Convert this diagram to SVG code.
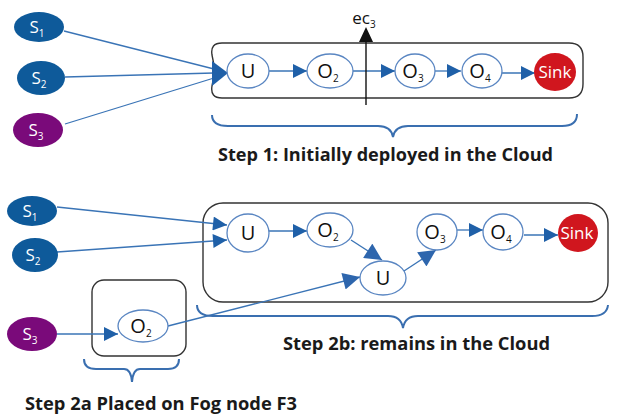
<svg xmlns="http://www.w3.org/2000/svg" width="628" height="417" viewBox="0 0 628 417">
<style>
.s12{fill:#0e5a9a}
.s3{fill:#7a0a7a}
.op{fill:#fff;stroke:#5a86c2;stroke-width:1.3}
.sink{fill:#d0161e}
.box{fill:none;stroke:#333;stroke-width:1.4}
.brace{fill:none;stroke:#3a6fb0;stroke-width:2}
.ln{fill:none;stroke:#3a74b6;stroke-width:1.3}
.t{font-family:"Open Sans","Noto Sans","Liberation Sans",sans-serif;font-size:17px;fill:#111;text-anchor:middle}
.n{font-size:20px}
.tw{fill:#fff}
.sub{font-size:10px}
.cap{font-family:"Open Sans","Noto Sans","Liberation Sans",sans-serif;font-size:17px;font-weight:bold;fill:#1a1a1a}
</style>
<defs>
<marker id="ah" viewBox="0 0 10 10" refX="10" refY="5" markerWidth="15" markerHeight="14" markerUnits="userSpaceOnUse" orient="auto">
<path d="M0,0 L10,5 L0,10 Z" fill="#1f60a8"/>
</marker>
<marker id="ahb" viewBox="0 0 10 10" refX="10" refY="5" markerWidth="18" markerHeight="17" markerUnits="userSpaceOnUse" orient="auto">
<path d="M0,0 L10,5 L0,10 Z" fill="#2e66ad"/>
</marker>
</defs>

<g id="containers">
<path class="box" d="M222,43 L569,43 Q583,43 583,57 L583,84 Q583,98 569,98 L222,98 Q210,98 212,86 Q216,70 212,55 Q210,43 222,43 Z"/>
<rect class="box" x="203" y="203" width="405" height="99" rx="20"/>
<rect class="box" x="92" y="280" width="94" height="76" rx="12"/>
</g>

<g id="connectors">
<line class="ln" x1="64" y1="31" x2="214" y2="69"/>
<line class="ln" x1="65" y1="77" x2="214" y2="73"/>
<line class="ln" x1="65" y1="124" x2="214" y2="78"/>
<polygon points="212,61 228,73 212,86" fill="#1f60a8"/>
<line class="ln" x1="269" y1="71" x2="307" y2="71" marker-end="url(#ah)"/>
<line class="ln" x1="353" y1="71" x2="395" y2="71" marker-end="url(#ah)"/>
<line class="ln" x1="435" y1="71" x2="461" y2="71" marker-end="url(#ah)"/>
<line class="ln" x1="502" y1="73" x2="535" y2="73" marker-end="url(#ah)"/>
<line x1="366" y1="105" x2="366" y2="40" stroke="#111" stroke-width="1.4"/>
<polygon points="359,42 373,42 366,27" fill="#111"/>

<line class="ln" x1="57" y1="207" x2="227" y2="225" marker-end="url(#ah)"/>
<line class="ln" x1="57" y1="252" x2="227" y2="240" marker-end="url(#ah)"/>
<line class="ln" x1="269" y1="231" x2="307" y2="231" marker-end="url(#ah)"/>
<line class="ln" x1="351" y1="240" x2="382" y2="260" marker-end="url(#ahb)"/>
<line class="ln" x1="404" y1="271" x2="436" y2="250" marker-end="url(#ahb)"/>
<line class="ln" x1="457" y1="230" x2="483" y2="230" marker-end="url(#ah)"/>
<line class="ln" x1="524" y1="235" x2="558" y2="235" marker-end="url(#ah)"/>
<line class="ln" x1="57" y1="334" x2="118" y2="334" marker-end="url(#ah)"/>
<line class="ln" x1="168" y1="326" x2="360" y2="277" marker-end="url(#ahb)"/>
</g>

<g id="S1a"><ellipse class="s12" cx="39" cy="27" rx="25" ry="15"/><text class="t tw" x="37" y="33">S<tspan class="sub" dy="4">1</tspan></text></g>
<g id="S2a"><ellipse class="s12" cx="41" cy="78" rx="24" ry="17"/><text class="t tw" x="39" y="84">S<tspan class="sub" dy="4">2</tspan></text></g>
<g id="S3a"><ellipse class="s3" cx="38" cy="130" rx="25" ry="17"/><text class="t tw" x="36" y="136">S<tspan class="sub" dy="4">3</tspan></text></g>
<g id="Ua"><ellipse class="op" cx="248" cy="71" rx="21" ry="17"/><text class="t n" x="248" y="78">U</text></g>
<g id="O2a"><ellipse class="op" cx="330" cy="71" rx="23" ry="17"/><text class="t n" x="328" y="78">O<tspan class="sub" dy="4">2</tspan></text></g>
<g id="O3a"><ellipse class="op" cx="415" cy="71" rx="20" ry="17"/><text class="t n" x="413" y="78">O<tspan class="sub" dy="4">3</tspan></text></g>
<g id="O4a"><ellipse class="op" cx="482" cy="71" rx="20" ry="17"/><text class="t n" x="480" y="78">O<tspan class="sub" dy="4">4</tspan></text></g>
<g id="SinkA"><ellipse class="sink" cx="555" cy="72" rx="21" ry="19"/><text class="t tw" x="555" y="78">Sink</text></g>
<g id="ec3"><text class="t" x="364" y="24">ec<tspan class="sub" dy="4">3</tspan></text></g>

<g id="S1b"><ellipse class="s12" cx="32" cy="211" rx="25" ry="15"/><text class="t tw" x="30" y="217">S<tspan class="sub" dy="4">1</tspan></text></g>
<g id="S2b"><ellipse class="s12" cx="35" cy="255" rx="23" ry="17"/><text class="t tw" x="33" y="261">S<tspan class="sub" dy="4">2</tspan></text></g>
<g id="S3b"><ellipse class="s3" cx="32" cy="334" rx="25" ry="17"/><text class="t tw" x="30" y="340">S<tspan class="sub" dy="4">3</tspan></text></g>
<g id="Ub"><ellipse class="op" cx="248" cy="233" rx="21" ry="19"/><text class="t n" x="248" y="240">U</text></g>
<g id="O2b"><ellipse class="op" cx="330" cy="230" rx="23" ry="17"/><text class="t n" x="328" y="237">O<tspan class="sub" dy="4">2</tspan></text></g>
<g id="U2b"><ellipse class="op" cx="383" cy="278" rx="23" ry="17"/><text class="t n" x="383" y="285">U</text></g>
<g id="O3b"><ellipse class="op" cx="437" cy="232" rx="20" ry="18"/><text class="t n" x="435" y="239">O<tspan class="sub" dy="4">3</tspan></text></g>
<g id="O4b"><ellipse class="op" cx="503" cy="232" rx="20" ry="18"/><text class="t n" x="501" y="239">O<tspan class="sub" dy="4">4</tspan></text></g>
<g id="SinkB"><ellipse class="sink" cx="578" cy="233" rx="20" ry="19"/><text class="t tw" x="577" y="239">Sink</text></g>
<g id="O2fog"><ellipse class="op" cx="143" cy="326" rx="25" ry="16"/><text class="t n" x="141" y="333">O<tspan class="sub" dy="4">2</tspan></text></g>

<g id="braces">
<path class="brace" d="M212,115 Q212,126 228,126 L378,126 Q391,126 393,137 Q395,126 408,126 L562,126 Q577,126 577,114"/>
<path class="brace" d="M197,305 Q197,316 213,316 L388,316 Q401,316 403,328 Q405,316 418,316 L592,316 Q607,316 608,305"/>
<path class="brace" d="M84,359 Q84,369 96,369 L124,369 Q131,369 132,382 Q133,369 140,369 L168,369 Q179,369 179,359"/>
</g>

<g id="captions">
<text class="cap" x="218" y="161" textLength="335" lengthAdjust="spacingAndGlyphs">Step 1: Initially deployed in the Cloud</text>
<text class="cap" x="283" y="350" textLength="267" lengthAdjust="spacingAndGlyphs">Step 2b: remains in the Cloud</text>
<text class="cap" x="25" y="410" textLength="272" lengthAdjust="spacingAndGlyphs">Step 2a Placed on Fog node F3</text>
</g>
</svg>
